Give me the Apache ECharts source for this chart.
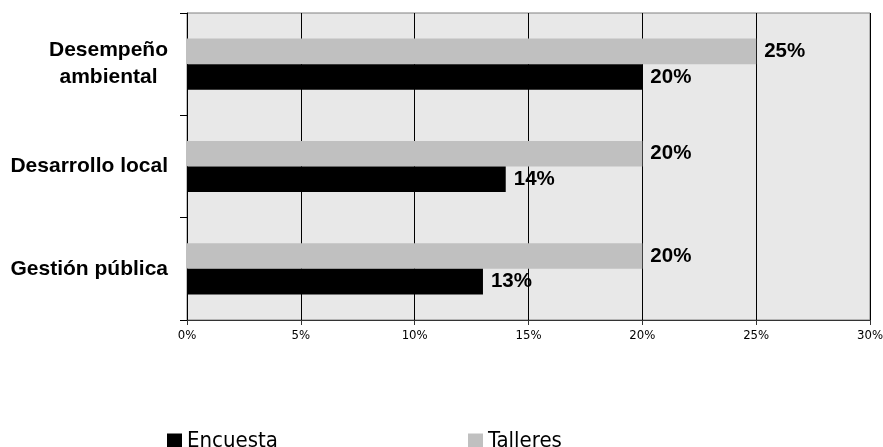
<!DOCTYPE html>
<html>
<head>
<meta charset="utf-8">
<script src="https://cdn.jsdelivr.net/npm/echarts@6/dist/echarts.min.js"></script>
<style>
  html, body { margin: 0; padding: 0; background: #fff; }
  #chart-container { width: 883px; height: 447px; }
</style>
</head>
<body>
<div id="chart-container"></div>
<script>
const categories = ['Desempeño\nambiental', 'Desarrollo local', 'Gestión pública']
const encuesta = [20, 14, 13]
const talleres = [25, 20, 20]
const xTicks = [0, 5, 10, 15, 20, 25, 30]

const myChart = echarts.init(document.getElementById('chart-container'))

const narrow = "'Liberation Sans Narrow', 'DejaVu Sans Condensed', sans-serif"

const labelStyle = {
    show: true,
    position: 'right',
    distance: 8,
    formatter: '{c}%',
    color: '#000',
    fontFamily: 'Liberation Sans, Arial',
    fontWeight: 'bold',
    fontSize: 20.5
}

const legendText = {
    color: '#000',
    fontFamily: narrow,
    fontSize: 22
}

const option = {
    animation: false,
    grid: {
        left: 187,
        right: 13,
        top: 13,
        bottom: 127,
        outerBoundsMode: 'none',
        show: true,
        backgroundColor: '#e8e8e8',
        borderColor: '#808080',
        borderWidth: 1
    },
    legend: [
        {
            data: ['Encuesta'],
            left: 162,
            top: 425,
            icon: 'rect',
            itemWidth: 15,
            itemHeight: 15,
            textStyle: legendText
        },
        {
            data: ['Talleres'],
            left: 463,
            top: 425,
            icon: 'rect',
            itemWidth: 15,
            itemHeight: 15,
            textStyle: legendText
        }
    ],
    xAxis: {
        type: 'value',
        min: xTicks[0],
        max: xTicks[xTicks.length - 1],
        interval: 5,
        axisLine: { show: true, lineStyle: { color: '#333', width: 1 } },
        axisTick: { show: true, length: 5, lineStyle: { color: '#333' } },
        axisLabel: {
            margin: 9,
            formatter: '{value}%',
            color: '#000',
            fontFamily: narrow,
            fontSize: 13
        },
        splitLine: { show: true, lineStyle: { color: '#000', width: 1 } }
    },
    yAxis: {
        type: 'category',
        data: categories,
        inverse: true,
        axisLine: { show: true, lineStyle: { color: '#000', width: 1 } },
        axisTick: { show: true, length: 7, lineStyle: { color: '#000' } },
        axisLabel: {
            margin: 19,
            formatter: v => v.split('\n').map(s => '{c|' + s + '}').join('\n'),
            rich: {
                c: {
                    align: 'center',
                    color: '#000',
                    fontFamily: 'Liberation Sans, Arial',
                    fontWeight: 'bold',
                    fontSize: 21,
                    lineHeight: 27
                }
            }
        }
    },
    series: [
        {
            name: 'Talleres',
            type: 'bar',
            data: talleres,
            itemStyle: { color: '#c0c0c0' },
            barGap: '0%',
            barCategoryGap: '50%',
            label: labelStyle
        },
        {
            name: 'Encuesta',
            type: 'bar',
            data: encuesta,
            itemStyle: { color: '#000000' },
            label: labelStyle
        }
    ]
}

option && myChart.setOption(option)
</script>
</body>
</html>
